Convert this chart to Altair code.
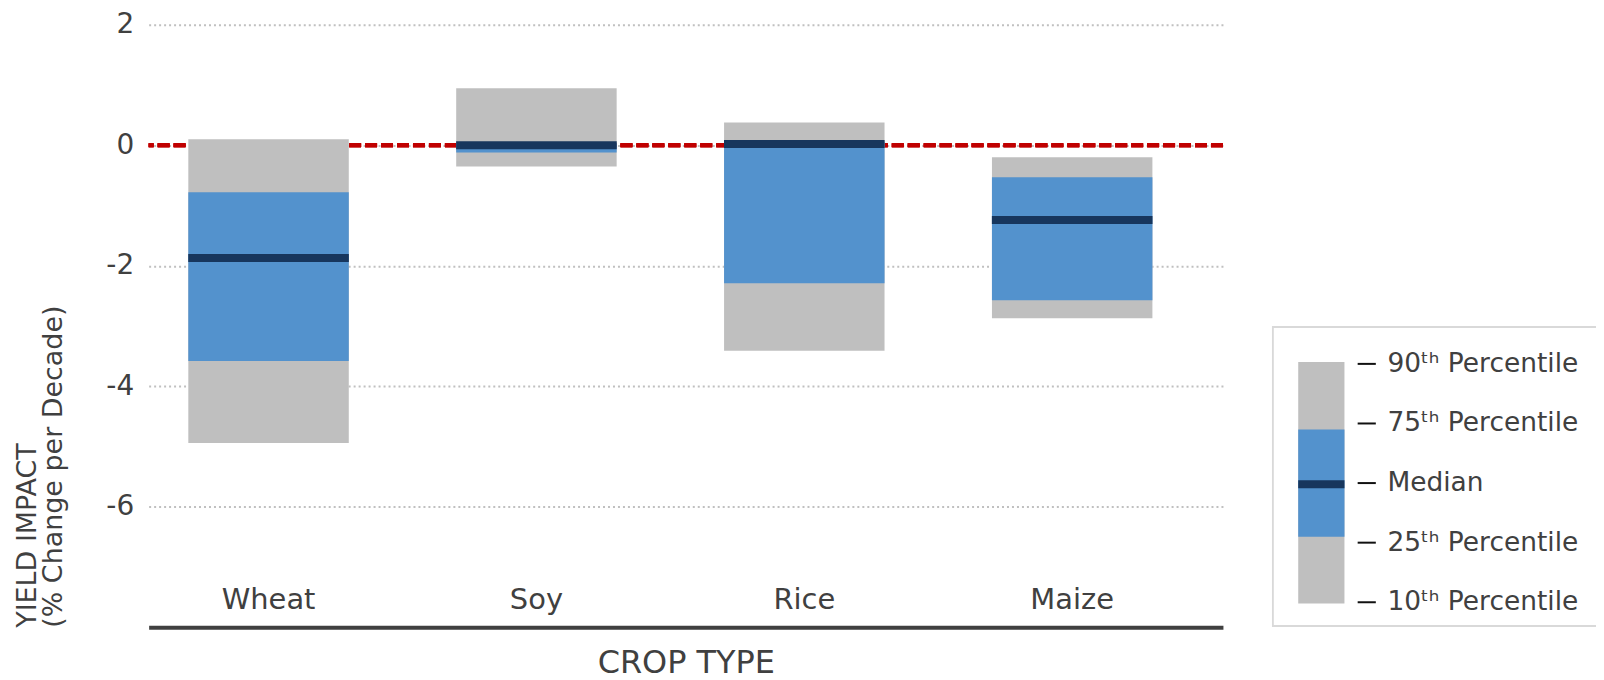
import altair as alt
import pandas as pd

# ---------------- data ----------------
crops = ["Wheat", "Soy", "Rice", "Maize"]
p10 = [-4.94, -0.35, -3.41, -2.87]
p25 = [-3.58, -0.12, -2.29, -2.57]
p50 = [-1.87, 0.00, 0.02, -1.24]
p75 = [-0.78, 0.03, 0.06, -0.53]
p90 = [0.10, 0.945, 0.38, -0.20]

y_ticks = [2, 0, -2, -4, -6]
y_domain = [-8, 2]

legend_labels = ["90ᵗʰ Percentile", "75ᵗʰ Percentile", "Median",
                 "25ᵗʰ Percentile", "10ᵗʰ Percentile"]
legend_rows = [5, 4, 3, 2, 1]

# ---------------- styles ----------------
FONT = "DejaVu Sans"
TEXT = "#404040"
GRAY = "#bfbfbf"
BLUE = "#5392cd"
NAVY = "#17365d"
RED = "#c00000"

df = pd.DataFrame(dict(crop=crops, p10=p10, p25=p25, p50=p50, p75=p75, p90=p90))

xscale = alt.Scale(domain=crops, paddingInner=0.401, paddingOuter=0.2057, align=0.36)
yscale = alt.Scale(domain=y_domain, nice=False, zero=False)

x_enc = alt.X(
    "crop:N", scale=xscale, sort=crops,
    axis=alt.Axis(
        title="CROP TYPE", titleFontSize=32, titleFontWeight="normal",
        titleColor=TEXT, titleFont=FONT, titlePadding=20,
        labelFontSize=29, labelColor=TEXT, labelFont=FONT, labelAngle=0,
        labelPadding=-19, labelBaseline="alphabetic",
        ticks=False, tickSize=0, domain=True, domainColor=TEXT,
        domainWidth=4, grid=False,
    ),
)

y_axis = alt.Axis(
    values=y_ticks,
    title=["YIELD IMPACT", "(% Change per Decade)"],
    labelExpr="toString(datum.value)",
    titleFontSize=27, titleFontWeight="normal", titleColor=TEXT,
    titleFont=FONT, titleAnchor="start", titlePadding=38, titleLineHeight=27,
    labelFontSize=28, labelColor=TEXT, labelFont=FONT, labelPadding=15,
    ticks=False, tickSize=0, domain=False,
    grid=True, gridColor="#c0c0c0", gridDash=[2, 3], gridWidth=2,
)

base = alt.Chart(df)

zero_line = base.mark_rule(color=RED, strokeWidth=4, strokeDash=[12, 4]).encode(
    y=alt.YDatum(0, scale=yscale, axis=y_axis)
)
outer = base.mark_bar(color=GRAY).encode(
    x=x_enc, y=alt.Y("p10:Q", scale=yscale, axis=y_axis), y2="p90:Q"
)
inner = base.mark_bar(color=BLUE).encode(
    x=x_enc, y=alt.Y("p25:Q", scale=yscale, axis=y_axis), y2="p75:Q"
)
median = base.mark_tick(color=NAVY, opacity=1, thickness=8, size=161).encode(
    x=x_enc, y=alt.Y("p50:Q", scale=yscale, axis=y_axis)
)

main = alt.layer(zero_line, outer, inner, median).properties(width=1077, height=604)

# ---------------- legend panel (same height as the plot, box in the lower part) ----------------
LEG_W = 325
UNIT = 33.1
lx = alt.Scale(domain=[0, LEG_W / UNIT], nice=False, zero=False)
ly = alt.Scale(domain=[0.58, 10.69], nice=False, zero=False)
box_x = [0.03, LEG_W / UNIT + 1]
box_rows = [0.6, 5.62]
bar_x = [0.8, 2.2]
dash_x = [2.6, 3.15]
label_x = 3.5
gray_rows = [0.98, 5.03]
blue_rows = [2.1, 3.9]
median_row = 2.98

leg_df = pd.DataFrame({"label": legend_labels, "row": legend_rows})
box_df = pd.DataFrame({"x": [box_x[0]], "x2": [box_x[1]], "y": [box_rows[0]], "y2": [box_rows[1]]})
seg_df = pd.DataFrame({
    "x": [bar_x[0], bar_x[0]], "x2": [bar_x[1], bar_x[1]],
    "y": [gray_rows[0], blue_rows[0]], "y2": [gray_rows[1], blue_rows[1]],
    "part": ["outer", "inner"],
})

leg_box = alt.Chart(box_df).mark_rect(
    color="white", stroke="#d9d9d9", strokeWidth=2, clip=True
).encode(
    x=alt.X("x:Q", scale=lx, axis=None), x2="x2:Q",
    y=alt.Y("y:Q", scale=ly, axis=None), y2="y2:Q",
)
leg_seg = alt.Chart(seg_df).mark_rect().encode(
    x=alt.X("x:Q", scale=lx, axis=None), x2="x2:Q",
    y=alt.Y("y:Q", scale=ly, axis=None), y2="y2:Q",
    color=alt.Color("part:N", scale=alt.Scale(domain=["outer", "inner"], range=[GRAY, BLUE]), legend=None),
    order=alt.Order("y:Q"),
)
leg_med = alt.Chart(pd.DataFrame({"x": [bar_x[0]], "x2": [bar_x[1]], "y": [median_row]})).mark_rule(
    color=NAVY, strokeWidth=8
).encode(
    x=alt.X("x:Q", scale=lx, axis=None), x2="x2:Q", y=alt.Y("y:Q", scale=ly, axis=None)
)
leg_dash = alt.Chart(leg_df).mark_rule(color="#111111", strokeWidth=2).encode(
    x=alt.XDatum(dash_x[0], scale=lx, axis=None), x2=alt.X2Datum(dash_x[1]),
    y=alt.Y("row:Q", scale=ly, axis=None),
)
leg_text = alt.Chart(leg_df).mark_text(
    align="left", baseline="middle", fontSize=26.5, font=FONT, color=TEXT
).encode(
    x=alt.XDatum(label_x, scale=lx, axis=None),
    y=alt.Y("row:Q", scale=ly, axis=None),
    text="label:N",
)

legend = alt.layer(leg_box, leg_seg, leg_med, leg_dash, leg_text).properties(
    width=LEG_W, height=604,
)

chart = alt.hconcat(main, legend, spacing=47).properties(
    padding={"left": 5, "top": 2, "right": 0, "bottom": 0}
).configure(font=FONT).configure_view(strokeWidth=0)

chart.save("out.html", embed_options={"renderer": "svg", "actions": False})
